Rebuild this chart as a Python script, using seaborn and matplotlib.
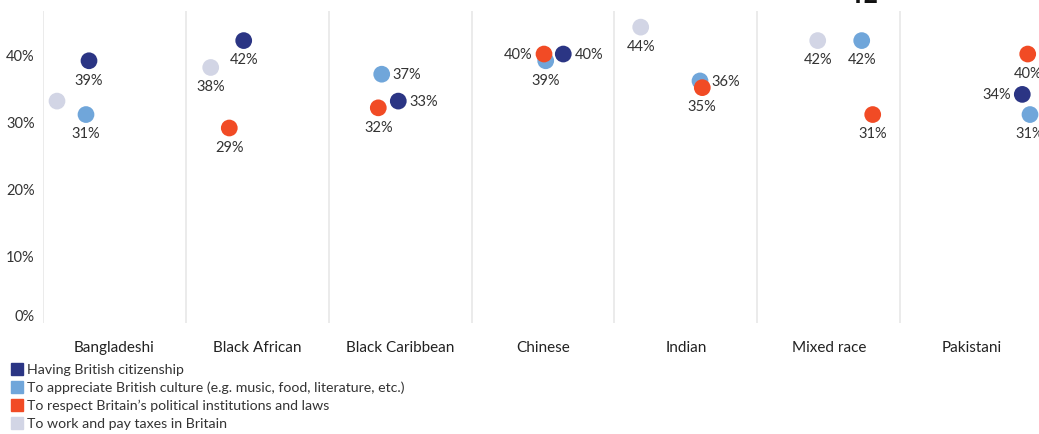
import matplotlib
matplotlib.use("Agg")
import matplotlib.pyplot as plt
import matplotlib.patches as mpatches
import numpy as np
import pandas as pd
import seaborn as sns

# Ethnic groups shown as side-by-side panels
groups = ["Bangladeshi", "Black African", "Black Caribbean", "Chinese",
          "Indian", "Mixed race", "Pakistani"]

series_names = [
    "Having British citizenship",
    "To appreciate British culture (e.g. music, food, literature, etc.)",
    "To respect Britain\u2019s political institutions and laws",
    "To work and pay taxes in Britain",
]

# Share (%) per group; None where the group has no value for that item
citizenship = [39, 42, 33, 40, None, None, 34]
culture = [31, None, 37, 39, 36, 42, 31]
respect = [None, 29, 32, 40, 35, 31, 40]
work_taxes = [33, 38, None, None, 44, 42, None]

# Horizontal placement of each dot inside its panel (0 = left edge, 1 = right edge)
x_within = {
    series_names[0]: [0.322, 0.405, 0.487, 0.642, 0.5, 0.5, 0.855],
    series_names[1]: [0.301, 0.5, 0.371, 0.519, 0.599, 0.731, 0.909],
    series_names[2]: [0.5, 0.304, 0.347, 0.507, 0.615, 0.808, 0.893],
    series_names[3]: [0.098, 0.174, 0.5, 0.5, 0.184, 0.423, 0.5],
}
# Where each value label sits relative to its dot
label_side = {
    series_names[0]: ["below", "below", "right", "right", None, None, "left"],
    series_names[1]: ["below", None, "right", "below", "right", "below", "below"],
    series_names[2]: [None, "below", "below", "left", "below", "below", "below"],
    series_names[3]: [None, "below", None, None, "below", "below", None],
}

colors = ["#2b3584", "#70a6da", "#f14b25", "#d2d5e5"]
palette = dict(zip(series_names, colors))

rows = []
for name, vals in zip(series_names, [citizenship, culture, respect, work_taxes]):
    for gi, v in enumerate(vals):
        if v is None:
            continue
        rows.append({"group": groups[gi], "series": name, "value": v,
                     "x": gi + x_within[name][gi], "side": label_side[name][gi]})
df = pd.DataFrame(rows)

sns.set_theme(style="white")
font = ["Lato", "DejaVu Sans"]
plt.rcParams["font.family"] = font

W, H = 1039, 435
fig = plt.figure(figsize=(W / 100, H / 100), dpi=100)
ax_left, ax_right, ax_top, ax_bot = 43, 1043, 12, 324
ax = fig.add_axes([ax_left / W, 1 - ax_bot / H, (ax_right - ax_left) / W,
                   (ax_bot - ax_top) / H])

sns.scatterplot(data=df, x="x", y="value", hue="series", palette=palette,
                hue_order=series_names, s=145, linewidth=0, ax=ax,
                legend=False, zorder=3)

ax.set_xlim(0, len(groups))
ax.set_ylim(0, 46.4)
for s in ax.spines.values():
    s.set_visible(False)

# Panel separators
for i in range(len(groups) + 1):
    ax.axvline(i, color="#e8e8e8", lw=1.2, zorder=1)

ax.set_yticks([0, 10, 20, 30, 40])
ax.set_yticklabels([f"{t}%" for t in [0, 10, 20, 30, 40]])
ax.tick_params(axis="y", length=0, pad=6, labelsize=10.5, labelcolor="#333333")
ax.get_yticklabels()[0].set_verticalalignment("bottom")

ax.set_xticks(np.arange(len(groups)) + 0.5)
ax.set_xticklabels(groups)
ax.tick_params(axis="x", length=0, pad=12, labelsize=11, labelcolor="#222222")
ax.set_xlabel("")
ax.set_ylabel("")

# Value labels next to the dots
for _, r in df.iterrows():
    if r["side"] is None:
        continue
    txt = f"{r['value']:.0f}%"
    if r["side"] == "below":
        off, ha, va = (0, -13.5), "center", "center"
    elif r["side"] == "right":
        off, ha, va = (8, 0), "left", "center"
    else:
        off, ha, va = (-8, 0), "right", "center"
    ax.annotate(txt, (r["x"], r["value"]), xytext=off, textcoords="offset points",
                ha=ha, va=va, fontsize=10.5, color="#333333", zorder=4)

# Legend
for i, (name, c) in enumerate(zip(series_names, colors)):
    yc = 370 + i * 18
    fig.patches.append(mpatches.Rectangle((11 / W, 1 - (yc + 6) / H), 12 / W, 12 / H,
                                          transform=fig.transFigure, color=c))
    fig.text(27 / W, 1 - yc / H, name, ha="left", va="center", fontsize=10.2,
             color="#333333")

# Heading running off the top edge
fig.text(864 / W, 1 - 3 / H, "12", ha="center", va="baseline", fontsize=18,
         fontweight="bold", family=["Roboto", "DejaVu Sans"], color="#111111")

fig.savefig("out.png", dpi=100)
